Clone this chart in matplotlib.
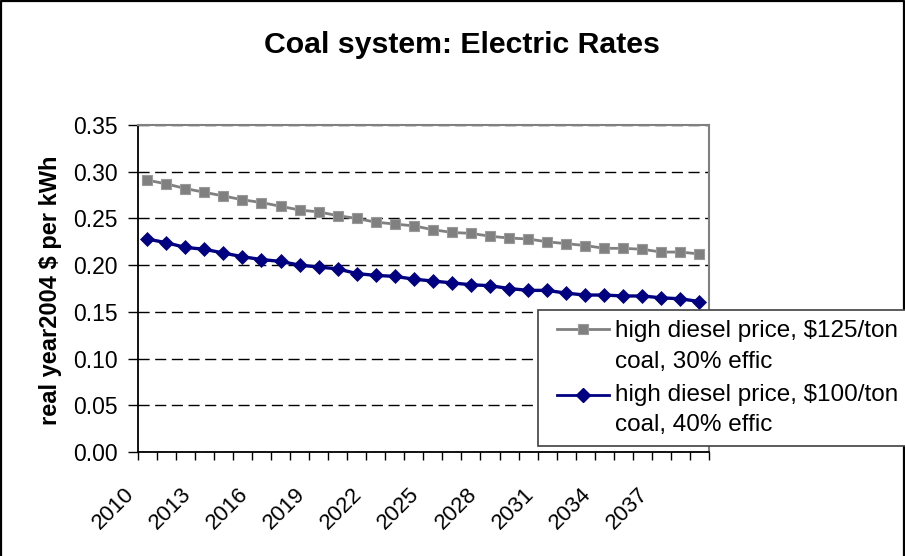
import matplotlib
matplotlib.use("Agg")
import matplotlib.pyplot as plt
from matplotlib.transforms import Affine2D, ScaledTranslation
from matplotlib.lines import Line2D
from matplotlib.patches import Rectangle
from matplotlib.ticker import FixedLocator, FixedFormatter, MultipleLocator, FormatStrFormatter

plt.rcParams['font.family'] = ['Liberation Sans', 'DejaVu Sans']

years = ['2010', '2011', '2012', '2013', '2014', '2015', '2016', '2017', '2018', '2019',
         '2020', '2021', '2022', '2023', '2024', '2025', '2026', '2027', '2028', '2029',
         '2030', '2031', '2032', '2033', '2034', '2035', '2036', '2037', '2038', '2039']
coal_125_30 = [0.291, 0.287, 0.282, 0.278, 0.274, 0.270, 0.267, 0.263, 0.259, 0.257,
               0.253, 0.250, 0.246, 0.244, 0.242, 0.238, 0.235, 0.234, 0.231, 0.229,
               0.228, 0.225, 0.223, 0.221, 0.218, 0.218, 0.217, 0.214, 0.214, 0.212]
coal_100_40 = [0.228, 0.224, 0.219, 0.217, 0.213, 0.209, 0.206, 0.204, 0.200, 0.198,
               0.196, 0.191, 0.189, 0.188, 0.185, 0.183, 0.181, 0.179, 0.178, 0.175,
               0.173, 0.173, 0.170, 0.168, 0.168, 0.167, 0.167, 0.165, 0.164, 0.161]
label_125 = ["high diesel price, $125/ton", "coal, 30% effic"]
label_100 = ["high diesel price, $100/ton", "coal, 40% effic"]
title = "Coal system: Electric Rates"
ylabel = "real year2004 $ per kWh"

W, H = 905, 556
fig = plt.figure(figsize=(W / 100, H / 100), dpi=100)
px = Affine2D().scale(1 / W, -1 / H).translate(0, 1) + fig.transFigure

# outer chart border
fig.add_artist(Line2D([1, 1, 903.5, 903.5], [556, 1, 1, 556], transform=px,
                      color='black', lw=1.6))

ax_l, ax_r, ax_t, ax_b = 137.7, 709, 125, 452
ax = fig.add_axes([ax_l / W, 1 - ax_b / H, (ax_r - ax_l) / W, (ax_b - ax_t) / H])

x = list(range(len(years)))
GRAY = '#808080'
NAVY = '#000080'
ax.plot(x, coal_125_30, color=GRAY, lw=2.0, marker='s', ms=6.5,
        mfc=GRAY, mec='#9a9a9a', mew=0.8, zorder=3, clip_on=False)
ax.plot(x, coal_100_40, color=NAVY, lw=2.4, marker='D', ms=7.2,
        mfc=NAVY, mec=NAVY, mew=0.5, zorder=3, clip_on=False)

ax.set_xlim(-0.5, len(years) - 0.5)
ax.set_ylim(0, 0.35)

ax.yaxis.set_major_locator(MultipleLocator(0.05))
ax.yaxis.set_major_formatter(FormatStrFormatter('%.2f'))
ax.tick_params(axis='y', direction='out', length=7.2, width=1, pad=7.2,
               labelsize=16.5, colors='black')

ax.xaxis.set_major_locator(FixedLocator(x[::3]))
ax.xaxis.set_major_formatter(FixedFormatter(years[::3]))
ax.xaxis.set_minor_locator(FixedLocator([i - 0.5 for i in range(len(years) + 1)]))
ax.tick_params(axis='x', which='major', length=0, pad=23, labelsize=16)
ax.tick_params(axis='x', which='minor', direction='out', length=6, width=1)
off = ScaledTranslation(-9 / 100, 0, fig.dpi_scale_trans)
for lab in ax.get_xticklabels():
    lab.set_rotation(45)
    lab.set_ha('right')
    lab.set_va('top')
    lab.set_transform(lab.get_transform() + off)

ax.grid(axis='y', color='black', lw=1, linestyle=(0, (8, 4)))
ax.set_axisbelow(True)
for s in ['left', 'bottom']:
    ax.spines[s].set_color('black')
    ax.spines[s].set_linewidth(1.3)
for s in ['top', 'right']:
    ax.spines[s].set_color(GRAY)
    ax.spines[s].set_linewidth(1.5)

fig.text(462 / W, 1 - 45 / H, title, ha='center', va='center',
         fontsize=21.8, fontweight='bold')
fig.text(50 / W, 1 - 290 / H, ylabel, ha='center', va='center', rotation=90,
         fontsize=17, fontweight='bold')

# legend (manual, to match Excel-style wrapped labels)
fig.add_artist(Rectangle((538, 310), 380, 136, transform=px, facecolor='white',
                         edgecolor='#404040', lw=1.2, zorder=5, clip_on=False))
fig.add_artist(Line2D([557, 609], [329, 329], transform=px, color=GRAY, lw=2.0,
                      zorder=6))
fig.add_artist(Line2D([583], [329], transform=px, marker='s', ms=6.5, mfc=GRAY,
                      mec='#9a9a9a', mew=0.8, color=GRAY, zorder=7))
fig.add_artist(Line2D([557, 609], [394.5, 394.5], transform=px, color=NAVY, lw=2.0,
                      zorder=6))
fig.add_artist(Line2D([583], [394.5], transform=px, marker='D', ms=7.2, mfc=NAVY,
                      mec=NAVY, color=NAVY, zorder=7))
for txt, yb in zip(label_125 + label_100, [336.5, 368, 400.5, 431.5]):
    t = fig.text(615 / W, 1 - yb / H, txt, ha='left', va='baseline', fontsize=17.5,
                 zorder=8)

fig.savefig('out.png', dpi=100)
